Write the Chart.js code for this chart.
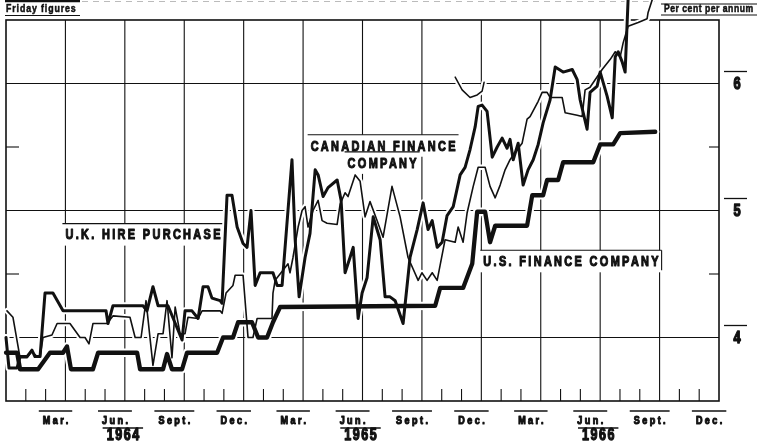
<!DOCTYPE html>
<html>
<head>
<meta charset="utf-8">
<script src="https://cdn.jsdelivr.net/npm/chart.js@4.4.1/dist/chart.umd.min.js"></script>
<style>
  html, body { margin: 0; padding: 0; background: #fff; }
  canvas { display: block; }
</style>
</head>
<body>
<canvas id="rates" width="757" height="442"></canvas>
<script>
// Friday figures, per cent per annum. x = months since 1 Jan 1964
const ukHirePurchase = [
  [0.05,4.21],[0.35,4.16],[0.71,3.84],[1.06,3.84],[1.31,3.89],[1.57,3.85],[1.72,3.85],[1.87,4.00],
  [2.32,4.02],[2.58,4.11],[3.23,4.11],[3.74,4.00],[3.99,4.00],[4.19,3.95],[4.39,4.11],[5.10,4.11],
  [5.40,4.17],[6.26,4.16],[6.52,4.00],[6.82,4.00],[7.07,4.29],[7.42,3.78],[7.68,4.03],[7.93,4.03],
  [8.13,4.29],[8.38,3.84],[8.54,4.24],[8.79,4.03],[9.04,4.03],[9.19,4.16],[9.70,4.15],[9.90,4.21],
  [10.81,4.21],[10.91,4.19],[11.11,4.35],[11.46,4.41],[11.57,4.49],[11.97,4.49],[12.22,4.00],[12.47,4.00],
  [12.68,4.15],[13.43,4.15],[13.48,4.35],[13.59,4.45],[14.24,4.58],[14.34,4.51],[14.49,4.63],[14.75,4.87],
  [14.95,5.00],[15.10,5.03],[15.25,4.87],[15.50,5.00],[15.76,5.08],[15.96,4.92],[16.21,4.90],[16.72,4.89],
  [16.87,5.05],[17.12,5.14],[17.27,5.11],[17.63,5.28],[17.88,5.23],[18.13,4.95],[18.38,5.07],[18.74,4.92],
  [19.04,4.79],[19.49,5.19],[19.90,4.95],[20.30,4.63],[20.81,4.45],[21.00,4.51],[21.26,4.45],[21.52,4.51],
  [21.77,4.45],[22.17,4.77],[22.68,4.75],[22.83,4.87],[23.08,4.75],[23.28,4.98],[23.59,5.19],[23.84,5.34],
  [24.19,5.34],[24.44,5.19],[24.70,5.10],[24.95,5.20],[25.20,5.32],[25.45,5.40],[25.71,5.46],[26.06,5.53],
  [26.31,5.72],[26.46,5.74],[26.87,5.86],[27.07,5.93],[27.32,5.93],[27.47,5.89],[28.08,5.89],[28.23,5.77],
  [28.84,5.75],[29.09,5.74],[29.24,5.95],[29.49,5.97],[30.10,6.11],[30.51,6.19],[30.76,6.25],[31.01,6.21],
  [31.16,6.32],[31.41,6.45],[31.92,6.48],[32.37,6.51],[32.42,6.56],[32.63,6.66]
];
const canadianFinance = [
  [0.00,4.00],[0.15,3.76],[0.56,3.76],[0.71,3.85],[1.06,3.85],[1.31,3.90],[1.46,3.85],[1.72,3.85],
  [1.97,4.35],[2.37,4.35],[2.88,4.21],[5.05,4.21],[5.15,4.11],[5.40,4.25],[6.92,4.25],[7.12,4.21],
  [7.42,4.40],[7.68,4.25],[8.18,4.25],[8.89,3.98],[9.04,4.21],[9.39,4.21],[9.70,4.15],[9.95,4.40],
  [10.20,4.40],[10.40,4.31],[10.81,4.29],[10.91,4.27],[11.16,5.12],[11.41,5.12],[11.67,4.87],[11.97,4.74],
  [12.17,4.71],[12.37,5.00],[12.58,4.41],[12.83,4.51],[13.48,4.51],[13.69,4.41],[13.94,4.41],[14.44,5.40],
  [14.60,4.77],[14.80,4.32],[15.10,4.63],[15.35,4.82],[15.61,5.32],[15.76,5.28],[16.01,5.11],[16.26,5.18],
  [16.72,5.24],[16.92,5.08],[17.12,4.51],[17.37,4.63],[17.53,4.71],[17.78,4.15],[17.98,4.35],[18.23,4.47],
  [18.54,4.95],[18.89,4.77],[19.14,4.32],[19.39,4.32],[19.65,4.29],[20.05,4.11],[20.40,4.63],[20.76,4.85],
  [21.06,5.06],[21.31,4.85],[21.52,4.92],[21.77,4.71],[22.02,4.75],[22.27,4.96],[22.58,5.03],[22.93,5.28],
  [23.18,5.34],[23.43,5.48],[23.69,5.66],[23.84,5.82],[24.04,5.83],[24.29,5.78],[24.55,5.42],[24.80,5.50],
  [25.05,5.57],[25.30,5.49],[25.45,5.56],[25.61,5.40],[25.86,5.53],[26.11,5.20],[26.36,5.32],[26.62,5.40],
  [26.87,5.52],[27.12,5.69],[27.47,5.87],[27.73,6.13],[28.13,6.09],[28.59,6.11],[28.84,6.03],[28.99,5.87],
  [29.34,5.64],[29.49,5.93],[29.85,5.98],[30.00,6.09],[30.35,5.90],[30.61,5.73],[30.76,6.21],[30.91,6.25],
  [31.11,6.17],[31.26,6.09],[31.41,6.66]
];
const usFinance = [
  [0.00,3.88],[0.56,3.88],[0.71,3.75],[1.62,3.75],[2.22,3.88],[2.88,3.88],[3.08,3.93],[3.28,3.75],
  [4.39,3.75],[4.65,3.88],[6.62,3.88],[6.77,3.75],[7.93,3.75],[8.13,3.87],[8.38,3.75],[8.89,3.75],
  [9.14,3.88],[10.66,3.88],[10.96,4.00],[11.46,4.00],[11.72,4.12],[12.42,4.12],[12.73,4.00],[13.18,4.00],
  [13.48,4.12],[13.84,4.24],[21.67,4.25],[21.92,4.39],[23.08,4.39],[23.54,4.58],[23.79,4.99],[24.19,4.99],
  [24.44,4.75],[24.70,4.88],[26.31,4.88],[26.57,5.12],[27.12,5.12],[27.32,5.24],[27.88,5.24],[28.13,5.38],
  [29.65,5.38],[30.00,5.52],[30.66,5.52],[31.01,5.61],[32.78,5.62]
];
// stray piece of line printed above the Dec. 1965 peak
const upperFragment = [[22.68,6.05],[23.03,5.95],[23.43,5.89],[23.79,5.91],[24.04,5.94],[24.14,6.01]];

const quarterLabels = ['Mar.', 'Jun.', 'Sept.', 'Dec.'];
const yearLabels = ['1964', '1965', '1966'];
const rateTicks = [4, 5, 6];
const halfTicks = [4.5, 5.5];

const ink = '#111';
const FONT = '"Liberation Sans", Arial, sans-serif';

const seriesTags = [
  { text: 'U.K. HIRE PURCHASE', m: 3.0, r: 4.81, align: 'left', edge: true },
  { text: 'CANADIAN FINANCE', m: 19.04, r: 5.51, align: 'center' },
  { text: 'COMPANY', m: 18.99, r: 5.375, align: 'center' },
  { text: 'U.S. FINANCE COMPANY', m: 24.1, r: 4.60, align: 'left', edge: true }
];

function seg(ctx, x1, y1, x2, y2, w) {
  ctx.lineWidth = w || 1;
  ctx.beginPath(); ctx.moveTo(x1, y1); ctx.lineTo(x2, y2); ctx.stroke();
}

function setFont(ctx, size, spacing) {
  ctx.font = 'bold ' + size + 'px ' + FONT;
  ctx.letterSpacing = spacing + 'px';
}

function textWidth(ctx, str, size, spacing, sx) {
  ctx.save(); setFont(ctx, size, spacing);
  const w = (ctx.measureText(str).width - spacing) * sx;
  ctx.restore();
  return w;
}

// narrow heavy lettering like the printed original
function narrow(ctx, str, x, y, size, spacing, align, sx, heavy) {
  ctx.save(); setFont(ctx, size, spacing);
  ctx.fillStyle = ink; ctx.strokeStyle = ink;
  ctx.textAlign = align; ctx.textBaseline = 'middle';
  ctx.translate(x, y); ctx.scale(sx, 1);
  const ox = align === 'center' ? spacing / 2 : 0;
  ctx.fillText(str, ox, 0);
  if (heavy) { ctx.lineWidth = heavy; ctx.lineJoin = 'round'; ctx.strokeText(str, ox, 0); }
  ctx.restore();
}

const decor = {
  id: 'decor',
  beforeDatasetsDraw(chart) {
    const { ctx, chartArea: a, scales: { x, y } } = chart;
    ctx.save();
    ctx.strokeStyle = ink; ctx.fillStyle = ink;

    rateTicks.forEach(v => { const py = y.getPixelForValue(v); seg(ctx, a.left, py, a.right, py, 1.1); });
    halfTicks.forEach(v => {
      const py = y.getPixelForValue(v);
      seg(ctx, a.left, py, a.left + 13, py, 1.1);
      seg(ctx, a.right - 10, py, a.right, py, 1.1);
    });
    for (let m = 1; m < 36; m++) {
      const px = x.getPixelForValue(m);
      if (m % 3 === 0) seg(ctx, px, a.top, px, a.bottom, 1.1);
      else seg(ctx, px, a.bottom, px, a.bottom - 12, 1.1);
    }
    ctx.lineWidth = 1.6;
    ctx.strokeRect(a.left, a.top, a.right - a.left, a.bottom - a.top);

    // series names with white boxes and rules over them
    seriesTags.forEach(t => {
      const w = textWidth(ctx, t.text, 14, 3, 0.78);
      const px = x.getPixelForValue(t.m), py = y.getPixelForValue(t.r);
      const x0 = t.align === 'left' ? px : px - w / 2;
      ctx.fillStyle = '#fff';
      ctx.fillRect(x0 - 4, py - 11, w + 8, 22);
      ctx.fillStyle = ink;
      seg(ctx, x0 - 3, py - 11, x0 + w + 3, py - 11, 1.1);
      if (t.edge) seg(ctx, x0 + w + 3, py - 11, x0 + w + 3, py + 9, 1.1);
      narrow(ctx, t.text, t.align === 'left' ? x0 : px, py + 1, 14, 3, t.align, 0.78, 1.1);
    });

    // month and year labels under the axis
    yearLabels.forEach((yr, i) => {
      quarterLabels.forEach((q, k) => {
        const px = x.getPixelForValue(12 * i + 3 * k + 2.5);
        const w = textWidth(ctx, q, 11, 3, 0.82);
        seg(ctx, px - w / 2 - 4, a.bottom + 10, px + w / 2 + 4, a.bottom + 10, 1.3);
        narrow(ctx, q, px, a.bottom + 20, 11, 3, 'center', 0.82, 1.1);
      });
      const cx = x.getPixelForValue(12 * i + 5.9);
      const wy = textWidth(ctx, yr, 16, 2, 0.78);
      seg(ctx, cx - wy / 2 - 4, a.bottom + 27, cx + wy / 2 + 4, a.bottom + 27, 1.3);
      narrow(ctx, yr, cx, a.bottom + 35, 16, 2, 'center', 0.78, 1.3);
    });

    // rate labels on the right
    rateTicks.forEach(v => {
      const py = y.getPixelForValue(v), cx = a.right + 18;
      seg(ctx, cx - 13, py - 12, cx + 10, py - 12, 1.3);
      narrow(ctx, String(v), cx, py + 1, 16, 0, 'center', 0.8, 1.4);
    });

    // headings
    seg(ctx, 5, 1, 80, 1, 2.5);
    seg(ctx, 5, 15.5, 80, 15.5, 1.1);
    narrow(ctx, 'Friday figures', 6, 9, 10, 1, 'left', 0.88, 0.5);
    seg(ctx, 661, 4, 757, 4, 1.2);
    seg(ctx, 661, 15, 757, 15, 1.2);
    narrow(ctx, 'Per cent per annum', 664, 9.5, 10, 0.6, 'left', 0.86, 0.5);
    ctx.strokeStyle = '#aaa'; ctx.setLineDash([6, 5]);
    seg(ctx, 82, 1.5, 655, 1.5, 0.8);
    ctx.restore();
  }
};

const toPoints = s => s.map(([m, r]) => ({ x: m, y: r }));
const lineSets = [
  { label: 'U.K. hire purchase', data: ukHirePurchase, width: 1.6 },
  { label: 'Canadian finance company', data: canadianFinance, width: 3 },
  { label: 'U.S. finance company', data: usFinance, width: 4.3 },
  { label: 'fragment', data: upperFragment, width: 1.5 }
];
const datasets = [];
lineSets.forEach(s => {
  // white halo first, so grid rules break where the curves cross them
  datasets.push({ label: s.label + ' halo', data: toPoints(s.data), borderColor: '#fff',
    borderWidth: s.width + 4, order: 10, clip: false });
  datasets.push({ label: s.label, data: toPoints(s.data), borderColor: ink,
    borderWidth: s.width, order: 1, clip: false });
});

new Chart(document.getElementById('rates'), {
  type: 'line',
  data: { datasets },
  options: {
    responsive: false,
    animation: false,
    layout: { padding: { left: 6, right: 38, top: 20, bottom: 41 } },
    elements: {
      point: { radius: 0 },
      line: { tension: 0, borderJoinStyle: 'round', borderCapStyle: 'round', fill: false }
    },
    plugins: { legend: { display: false }, tooltip: { enabled: false } },
    scales: {
      x: { type: 'linear', min: 0, max: 36, display: false },
      y: { type: 'linear', min: 3.5, max: 6.5, display: false }
    }
  },
  plugins: [decor]
});
</script>
</body>
</html>
